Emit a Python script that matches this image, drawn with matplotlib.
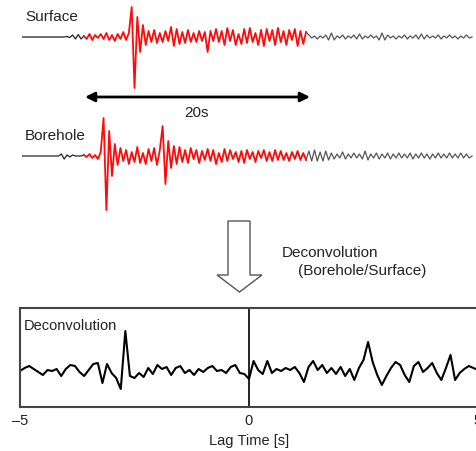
import numpy as np
import matplotlib
matplotlib.use("Agg")
import matplotlib.pyplot as plt
from matplotlib.patches import Polygon

plt.rcParams['font.family'] = ['Liberation Sans', 'DejaVu Sans']

# seismograms, sampled every 0.25 s (amplitude in arbitrary units)
dt = 0.25
surface_pre = [0, 0, 0, 0, 0, 0, 0, 0, 0, 0, 0, 0, 0, 0, 0, 0, 0.5, -0.5, 2, -2, 2.5, -2]
surface_win = [1, -2, 3, -3, 2, -1, 3, -2,
               4, -3, 2, -4, 3, -2, 5, -3, 4,
               30, -51, 20, -15,
               12, -8, 6, -5, 7, -6, 4, -5, 6, -4,
               10, -9, 8, -7, 5, -6, 7, -5,
               4, -5, 6, -4, 5, -15, 6, -4,
               8, -5, 6, -8, 9, -4, 7, -8, 3, -7, 8, -6, 9, -5, 4, -8, 7,
               -9, 8, -4, 7, -8, 9, -5, 6, -8, 7, -3, 8, -9, 6, -7, 5]
surface_post = [2, -1, 1, -2, 1, -1, 2, -3, 4, -3, 1, -1, 2, -2, 1, -1, 2, -2, 3, -2,
                1, -1, 2, -1, 1, -3, 4, -3, 2, -1, 1, -2, 1, -1, 2, -2, 1, -1, 2, -2,
                3, -2, 2, -1, 1, -1, 2, -2, 1, -1, 2, -1, 1, -2, 1, -1, 2, -1, 0]

borehole_pre = [0, 0, 0, 0, 0, 0, 0, 0, 0, 0, 0, 0, 0, 0, 2, -3, 1, -1, 1, 0, 0, 0]
borehole_win = [1, -1, 2, -2, 1, -3, 4,
                38, -54, 25, -20, 12, -9,
                8, -5, 6, -8, 4, -6, 9, -7, 3, -8, 7, -5, 8, -9, 6,
                30, -28, 15, -12, 10, -8,
                9, -6, 6, -7, 8, -3, 6, -7, 5, -4, 7, -5, 6, -8, 3, -6, 7, -5,
                6, -3, 4, -6, 5, -7, 6, -3, 4, -6, 5, -2, 6, -5, 4, -5, 6, -4,
                5, -4, 3, -5, 4, -3, 5, -4, 3, -4]
borehole_post = [5, -5, 6, -5, 4, -5, 5, -4, 3, -3, 2, -2, 4, -3, 2, -2, 3, -2, 2, -3,
                 5, -4, 2, -2, 3, -3, 2, -2, 3, -3, 2, -2, 3, -2, 2, -2, 3, -3, 2, -2,
                 3, -2, 2, -3, 2, -2, 3, -2, 2, -2, 3, -2, 2, -2, 3, -2, 2, -2, 0]

# deconvolution (borehole/surface), lag -5..5 s every 0.1 s
decon = [-1, 2, 4, 1, -2, -5, 0, -1, 1, -6,
         1, 5, 4, -2, -6, 0, 6, 7, -13, 6,
         -3, -8, -19, 39, -6, -8, -3, -7, 2, -4,
         5, 1, 3, -5, 2, 4, -3, 0, -5, 1,
         -2, 2, 4, -1, 0, -3, 3, 5, -3, -4,
         -9, 9, 0, -4, 9, -3, 1, -1, 2, 0,
         3, -3, -12, 3, 9, 0, 5, -3, 2, -4,
         3, -6, 1, -10, 2, 10, 28, 8, -5, -15,
         -6, 2, 8, 5, -5, -12, 4, 8, -2, 2,
         7, -3, -10, 2, 15, -10, -3, 1, 4, 2, 0]
lag_ticks = [-5, 0, 5]
lag_labels = ['\u20135', '0', '5']

W, H = 477, 451
fig = plt.figure(figsize=(W / 100, H / 100), dpi=100)


def px_axes(x0, y0, x1, y1):
    return fig.add_axes([x0 / W, 1 - y1 / H, (x1 - x0) / W, (y1 - y0) / H])


def draw_trace(ax, pre, win, post):
    y = np.array(pre + win + post, dtype=float)
    t = np.arange(len(y)) * dt
    a, b = len(pre), len(pre) + len(win)
    ax.plot(t[:a + 1], y[:a + 1], color='#222222', lw=0.9)
    ax.plot(t[b - 1:], y[b - 1:], color='#555555', lw=0.9)
    ax.plot(t[a:b], y[a:b], color='#ff0a0a', lw=1.3)


px_per_s = 11.25
x_start, x_end = 22, 477

ax1 = px_axes(x_start, 0, x_end, 100)
draw_trace(ax1, surface_pre, surface_win, surface_post)
ax1.set_xlim(0, (x_end - x_start) / px_per_s)
ax1.set_ylim(-63, 37)
ax1.axis('off')
# 20 s window arrow
t_a = (85 - x_start) / px_per_s
ax1.annotate('', xy=(t_a, -60), xytext=(t_a + 20, -60),
             arrowprops=dict(arrowstyle='<|-|>', color='black', lw=2,
                             mutation_scale=14, shrinkA=0, shrinkB=0))

ax2 = px_axes(x_start, 105, x_end, 215)
draw_trace(ax2, borehole_pre, borehole_win, borehole_post)
ax2.set_xlim(0, (x_end - x_start) / px_per_s)
ax2.set_ylim(-59, 51)
ax2.axis('off')

# deconvolution panel
ax3 = px_axes(20, 308, 478, 407)
lag = np.linspace(-5, 5, len(decon))
ax3.plot(lag, decon, color='black', lw=1.5)
ax3.axvline(0, color='black', lw=1.2)
ax3.set_xlim(-5, 5)
ax3.set_ylim(-37, 62)
ax3.set_yticks([])
ax3.set_xticks(lag_ticks)
ax3.set_xticklabels(lag_labels)
ax3.tick_params(axis='x', length=0, pad=5, labelsize=10.5, colors='#222222')
ax3.set_xlabel('Lag Time [s]', fontsize=10.5, labelpad=4, color='#222222')
for s in ax3.spines.values():
    s.set_color('#444444')
    s.set_linewidth(1.5)

# overlay for labels and hollow arrow
ov = fig.add_axes([0, 0, 1, 1])
ov.set_xlim(0, W)
ov.set_ylim(H, 0)
ov.axis('off')
ov.patch.set_alpha(0)
ov.text(25, 17, 'Surface', fontsize=11, va='center', color='#222222')
ov.text(25, 136, 'Borehole', fontsize=11, va='center', color='#222222')
ov.text(197, 113, '20s', fontsize=11, va='center', ha='center', color='#222222')
ov.text(282, 253, 'Deconvolution', fontsize=11, va='center', color='#222222')
ov.text(298, 271, '(Borehole/Surface)', fontsize=11, va='center', color='#222222')
ov.text(24, 326, 'Deconvolution', fontsize=10.5, va='center', color='#222222')
arrow = [(228, 221), (250, 221), (250, 275), (262, 275), (239.5, 292),
         (217, 275), (228, 275)]
ov.add_patch(Polygon(arrow, closed=True, facecolor='white', edgecolor='#555555', lw=1))

fig.savefig('out.png', dpi=100)
